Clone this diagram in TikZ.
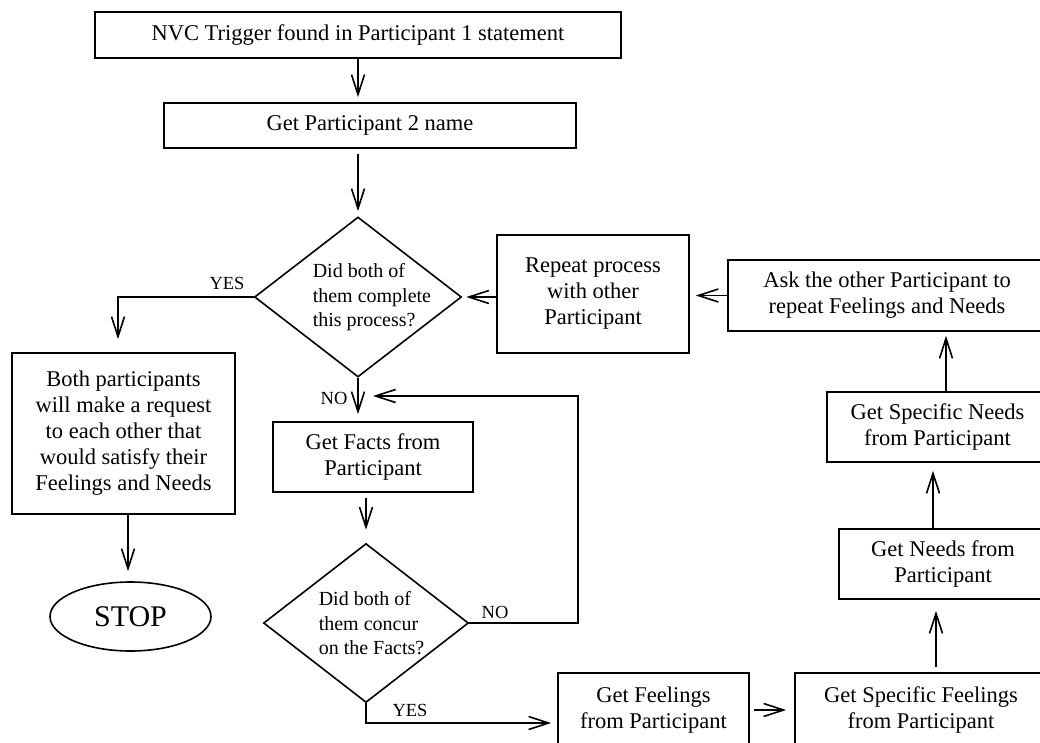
\documentclass[tikz,border=0pt]{standalone}
\usepackage{fontspec}
\setmainfont{Liberation Serif}
\usetikzlibrary{arrows.meta,shapes.geometric}

\begin{document}
\begin{tikzpicture}[x=1pt,y=-1pt,
  line width=1.6pt,
  box/.style={draw, rectangle, align=center, inner sep=0pt,
    font=\fontsize{22.5}{26}\selectfont},
  decision/.style={draw, diamond, inner sep=0pt},
  qtext/.style={align=left, anchor=west, inner sep=0pt,
    font=\fontsize{20}{24.5}\selectfont},
  tag/.style={inner sep=0pt, font=\fontsize{18.5}{20}\selectfont},
  flow/.style={-{Straight Barb[length=20pt,width=13pt]}},
]
\useasboundingbox (0,0) rectangle (1040,742);
\fill[white] (0,0) rectangle (1040,742);
\clip (0,0) rectangle (1040,742);

% main column
\node[box, minimum width=526pt, minimum height=46pt] (trigger) at (358,35)
  {NVC Trigger found in Participant 1 statement};
\node[box, minimum width=412pt, minimum height=45pt] (name2) at (370,125.5)
  {Get Participant 2 name};
\node[decision, minimum width=207pt, minimum height=160pt] (done) at (358,297) {};
\node[qtext] (doneq) at (312,297.5) {Did both of\\them complete\\this process?};
\node[box, minimum width=223pt, minimum height=161pt] (request) at (123.5,433.5)
  {Both participants\\will make a request\\to each other that\\would satisfy their\\Feelings and Needs};
\node[draw, ellipse, minimum width=161pt, minimum height=69pt, inner sep=0pt,
  font=\fontsize{30}{36}\selectfont] (stop) at (130.5,616.5) {STOP};
\node[box, minimum width=200pt, minimum height=70pt] (facts) at (373,457)
  {Get Facts from\\Participant};
\node[decision, minimum width=205pt, minimum height=159pt] (concur) at (366,623) {};
\node[qtext] (concurq) at (318,623.5) {Did both of\\them concur\\on the Facts?};

% feelings and needs chain
\node[box, minimum width=191pt, minimum height=74pt] (feel) at (653.5,710)
  {Get Feelings\\from Participant};
\node[box, minimum width=252pt, minimum height=74pt] (sfeel) at (921,710)
  {Get Specific Feelings\\from Participant};
\node[box, minimum width=208pt, minimum height=70pt] (needs) at (943,564)
  {Get Needs from\\Participant};
\node[box, minimum width=221pt, minimum height=70pt] (sneeds) at (937.5,427)
  {Get Specific Needs\\from Participant};
\node[box, minimum width=318pt, minimum height=71pt] (ask) at (887,295.5)
  {Ask the other Participant to\\repeat Feelings and Needs};
\node[box, minimum width=192pt, minimum height=118pt] (repeat) at (593,294)
  {Repeat process\\with other\\Participant};

% connectors
\draw[flow, shorten >=5pt] (trigger.south) -- (trigger.south |- name2.north);
\draw[flow, shorten <=5pt, shorten >=5pt] (done.north |- name2.south) -- (done.north);

\coordinate (yesbend) at (118,297);
\draw[flow, shorten >=13pt] (done.west) -- (yesbend) -- (yesbend |- request.north);
\node[tag] (yes1) at (227,283) {YES};

\coordinate (stopx) at (128,0);
\draw[flow, shorten >=10pt] (request.south -| stopx) -- (stopx |- stop.north);

\draw[flow, shorten >=7pt] (done.south) -- (done.south |- facts.north);
\node[tag] (no1) at (334,398) {NO};

\draw[flow, shorten <=5pt, shorten >=13pt] (concur.north |- facts.south) -- (concur.north);

\coordinate (loopr) at (578,623);
\coordinate (loopt) at (578,396);
\coordinate (loopend) at (373,396);
\draw[flow] (concur.east) -- (loopr) -- (loopt) -- (loopend);
\node[tag] (no2) at (495,612) {NO};

\coordinate (yesb) at (366,723);
\draw[flow, shorten >=6pt] (concur.south) -- (yesb) -- (yesb -| feel.west);
\node[tag] (yes2) at (410,710) {YES};

\draw[flow, shorten <=4pt, shorten >=8pt] (feel.east) -- (sfeel.west);

\coordinate (upa) at (936,0);
\coordinate (upb) at (933,0);
\coordinate (upc) at (946,0);
\draw[flow, shorten <=5pt, shorten >=11pt] (sfeel.north -| upa) -- (needs.south -| upa);
\draw[flow, shorten >=8pt] (needs.north -| upb) -- (sneeds.south -| upb);
\draw[flow, shorten >=4pt] (sneeds.north -| upc) -- (ask.south -| upc);
\draw[flow, shorten >=6pt] (ask.west) -- (ask.west -| repeat.east);
\draw[flow, shorten >=4pt] (repeat.west |- done.east) -- (done.east);
\end{tikzpicture}
\end{document}
